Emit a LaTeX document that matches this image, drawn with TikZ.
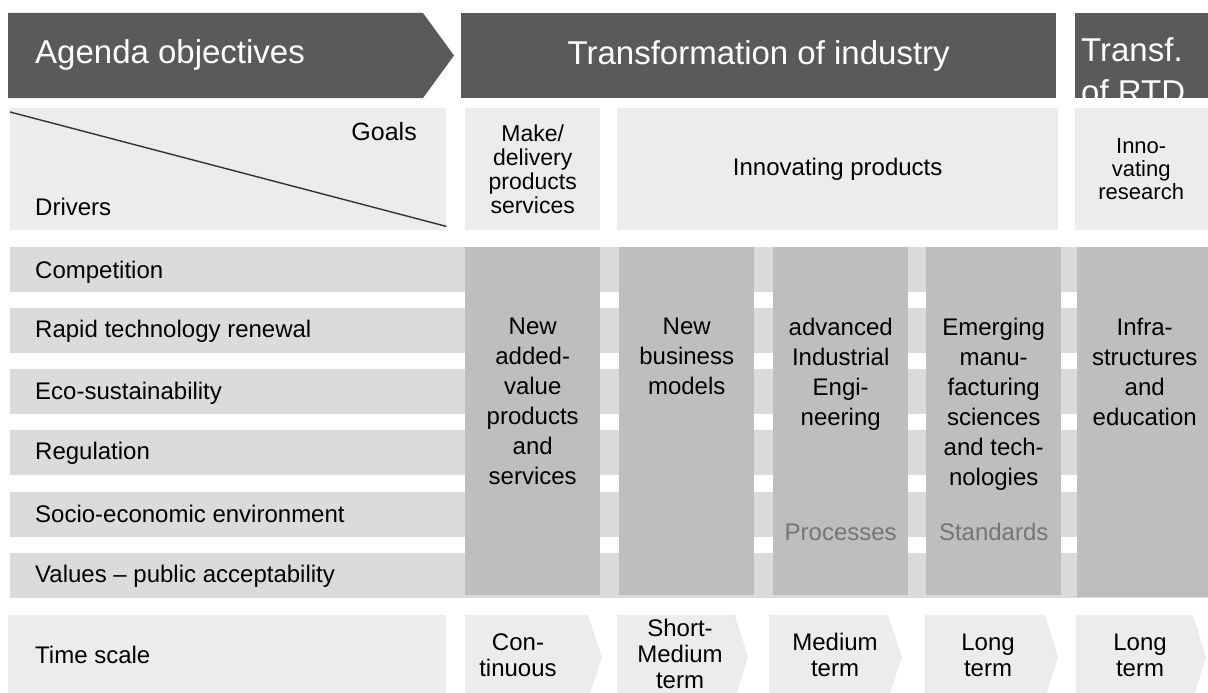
\documentclass[tikz,border=0pt]{standalone}
\usepackage{fontspec}
\setmainfont{Liberation Sans}
\usetikzlibrary{positioning}

\definecolor{headgray}{HTML}{5A5A5A}
\definecolor{goalgray}{HTML}{ECECEC}
\definecolor{bandgray}{HTML}{DBDBDB}
\definecolor{colgray}{HTML}{BEBEBE}
\definecolor{notegray}{HTML}{757575}

\tikzstyle{headtext} = [text=white, inner sep=0pt, font=\fontsize{33}{42}\selectfont]
\tikzstyle{goalbox} = [fill=goalgray, inner sep=0pt, anchor=north west, minimum height=122pt, align=center]
\tikzstyle{band} = [fill=bandgray, inner sep=0pt, anchor=north west, minimum width=1198pt, minimum height=45pt]
\tikzstyle{column} = [fill=colgray, inner sep=0pt, anchor=north west, minimum height=348pt]
\tikzstyle{coltext} = [align=center, inner sep=0pt, font=\fontsize{24}{30}\selectfont]
\tikzstyle{drvtext} = [anchor=west, inner sep=0pt, font=\fontsize{24}{30}\selectfont]
\tikzstyle{timetext} = [align=center, inner sep=0pt, font=\fontsize{24}{26}\selectfont]
\tikzstyle{chevron} = [fill=goalgray]

\begin{document}
\begin{tikzpicture}[x=1pt, y=-1pt]
    \useasboundingbox (0,0) rectangle (1208,693);

    % header row
    \fill [headgray] (8,13) -- (423,13) -- (454,55.5) -- (423,98) -- (8,98) -- cycle;
    \node [headtext, anchor=west] (agenda) at (35,55) {Agenda objectives};
    \node [headtext, fill=headgray, anchor=north west, minimum width=595pt, minimum height=85pt] (trans) at (461,13) {Transformation of industry};
    \begin{scope}
      \clip (1075,13) rectangle (1215,98);
      \fill [headgray] (1075,13) rectangle (1215,98);
      \node [headtext, anchor=north west, align=left] (rtd) at (1081,37) {Transf.\\of RTD};
    \end{scope}

    % goals row
    \node [goalbox, minimum width=436pt] (corner) at (10,108) {};
    \draw [line width=1.4pt, black!80] (corner.north west) ++(0,4) -- ([yshift=4pt]corner.south east);
    \node [anchor=east, inner sep=0pt, font=\fontsize{25}{30}\selectfont] (goals) at (417,132) {Goals};
    \node [drvtext] (drivers) at (35,207) {Drivers};
    \node [goalbox, minimum width=135pt, font=\fontsize{23}{24}\selectfont] (make) at (465,108) {Make/\\delivery\\products\\services};
    \node [goalbox, minimum width=441pt, font=\fontsize{24}{28}\selectfont] (innoprod) at (617,108) {Innovating products};
    \node [goalbox, minimum width=140pt, font=\fontsize{22}{23}\selectfont] (innores) at (1075,108) {\hspace*{-8pt}Inno-\\\hspace*{-8pt}vating\\\hspace*{-8pt}research};

    % drivers
    \node [band] (b1) at (10,247) {};
    \node [band] (b2) at (10,308) {};
    \node [band] (b3) at (10,369) {};
    \node [band] (b4) at (10,430) {};
    \node [band] (b5) at (10,492) {};
    \node [band] (b6) at (10,553) {};
    \node [drvtext] at (35,272) {Competition};
    \node [drvtext] at (35,331) {Rapid technology renewal};
    \node [drvtext] at (35,393) {Eco-sustainability};
    \node [drvtext] at (35,453) {Regulation};
    \node [drvtext] at (35,514) {Socio-economic environment};
    \node [drvtext] at (35,576) {Values -- public acceptability};

    % fields
    \node [column, minimum width=135pt] (c1) at (465,247) {};
    \node [column, minimum width=135pt] (c2) at (619,247) {};
    \node [column, minimum width=135pt] (c3) at (773,247) {};
    \node [column, minimum width=135pt] (c4) at (926,247) {};
    \node [column, minimum width=135pt, minimum height=350pt] (c5) at (1077,247) {};
    \node [coltext, below=71pt of c1.north] (t1) {New\\added-\\value\\products\\and\\services};
    \node [coltext, below=71pt of c2.north] (t2) {New\\business\\models};
    \node [coltext, below=71pt of c3.north] (t3) {advanced\\Industrial\\Engi-\\neering};
    \node [coltext, below=71pt of c4.north] (t4) {Emerging\\manu-\\facturing\\sciences\\and tech-\\nologies};
    \node [coltext, below=71pt of c5.north] (t5) {Infra-\\structures\\and\\education};
    \node [coltext, text=notegray, anchor=center] (proc) at (c3.center |- 0,532) {Processes};
    \node [coltext, text=notegray, anchor=center] (stand) at (c4.center |- 0,532) {Standards};

    % time scale
    \node [goalbox, minimum width=438pt, minimum height=85pt] (timebox) at (8,615) {};
    \node [drvtext] (time) at (35,655) {Time scale};
    \fill [chevron] (465,615) -- (588,615) -- (602,657) -- (588,699) -- (465,699) -- cycle;
    \fill [chevron] (617,615) -- (735,615) -- (748,657) -- (735,699) -- (617,699) -- cycle;
    \fill [chevron] (769,615) -- (888,615) -- (902,657) -- (888,699) -- (769,699) -- cycle;
    \fill [chevron] (925,615) -- (1045,615) -- (1058,657) -- (1045,699) -- (925,699) -- cycle;
    \fill [chevron] (1076,615) -- (1193,615) -- (1206,657) -- (1193,699) -- (1076,699) -- cycle;
    \node [timetext] (s1) at (518,655) {Con-\\tinuous};
    \node [timetext] (s2) at (680,654) {Short-\\Medium\\term};
    \node [timetext] (s3) at (835,655) {Medium\\term};
    \node [timetext] (s4) at (988,655) {Long\\term};
    \node [timetext] (s5) at (1140,655) {Long\\term};
\end{tikzpicture}
\end{document}
